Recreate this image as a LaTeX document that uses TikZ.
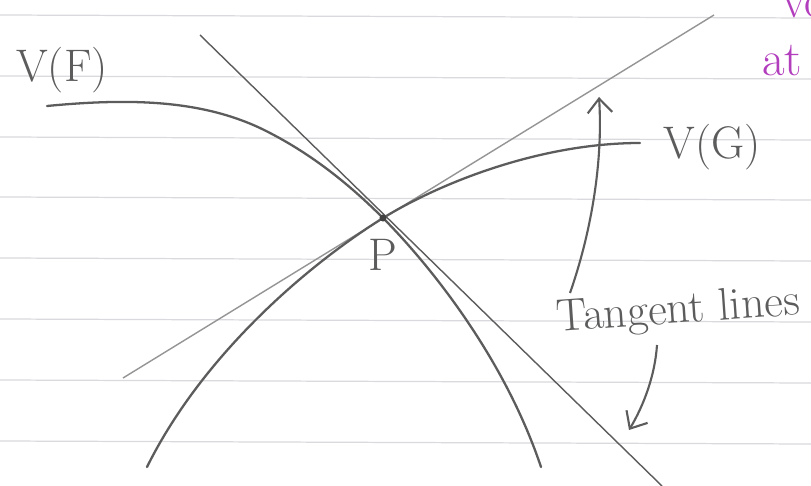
\documentclass[tikz,border=0pt]{standalone}
\usepackage{fontspec}
\usetikzlibrary{positioning,arrows.meta}
\definecolor{pencil}{RGB}{92,92,92}
\definecolor{paperline}{RGB}{218,218,222}
\definecolor{inkpurple}{RGB}{178,62,190}

\begin{document}
\begin{tikzpicture}[x=0.02cm, y=-0.02cm,
        curve/.style={pencil, line width=1.3pt, line cap=round},
        tangent/.style={line width=0.8pt},
        rule/.style={paperline, line width=0.7pt},
        hand/.style={pencil, font=\fontsize{26}{30}\selectfont, inner sep=0pt},
        margin/.style={inkpurple, font=\fontsize{28}{32}\selectfont, inner sep=0pt},
        pointer/.style={pencil, line width=1.2pt, -{Straight Barb[length=8pt,width=14pt]}}
    ]
        \useasboundingbox[fill=white] (0,0) rectangle (811,486);
        \foreach \y in {15,76,137,197,258,319,380,441}
            \draw[rule] (0,\y) -- (811,\y+3);

        \coordinate (P) at (383,218);
        \coordinate (tf1) at (200,35);
        \coordinate (tf2) at (662,486);
        \coordinate (tg1) at (123,378);
        \coordinate (tg2) at (714,15);

        \draw[tangent, pencil] (tf1) -- (tf2);
        \draw[tangent, pencil!65] (tg1) -- (tg2);

        % the two curves through P
        \draw[curve] (47,106) .. controls (130,98) and (200,100) .. (260,128)
            .. controls (310,152) and (350,185) .. (P)
            .. controls (415,250) and (500,345) .. (541,467);
        \draw[curve] (147,467) .. controls (200,360) and (300,270) .. (P)
            .. controls (440,183) and (540,143) .. (640,143);
        \fill[pencil!70!black] (P) circle (2pt);

        \node[hand] (vf) at (62,70) {V(F)};
        \node[hand] (vg) at (712,147) {V(G)};
        \node[hand, below=0.42cm of P] (plabel) {P};
        \node[hand, rotate=4] (tl) at (678,312) {Tangent lines};

        \coordinate (a1) at (570,293);
        \coordinate (a2) at (599,97);
        \coordinate (b1) at (657,345);
        \coordinate (b2) at (629,430);
        \draw[pointer] (a1) .. controls (592,230) and (603,160) .. (a2);
        \draw[pointer] (b1) .. controls (655,375) and (644,405) .. (b2);

        \node[margin, anchor=base west] (vo) at (782,18) {vo};
        \node[margin, anchor=base west] (at) at (762,76) {at};
    \end{tikzpicture}
\end{document}
